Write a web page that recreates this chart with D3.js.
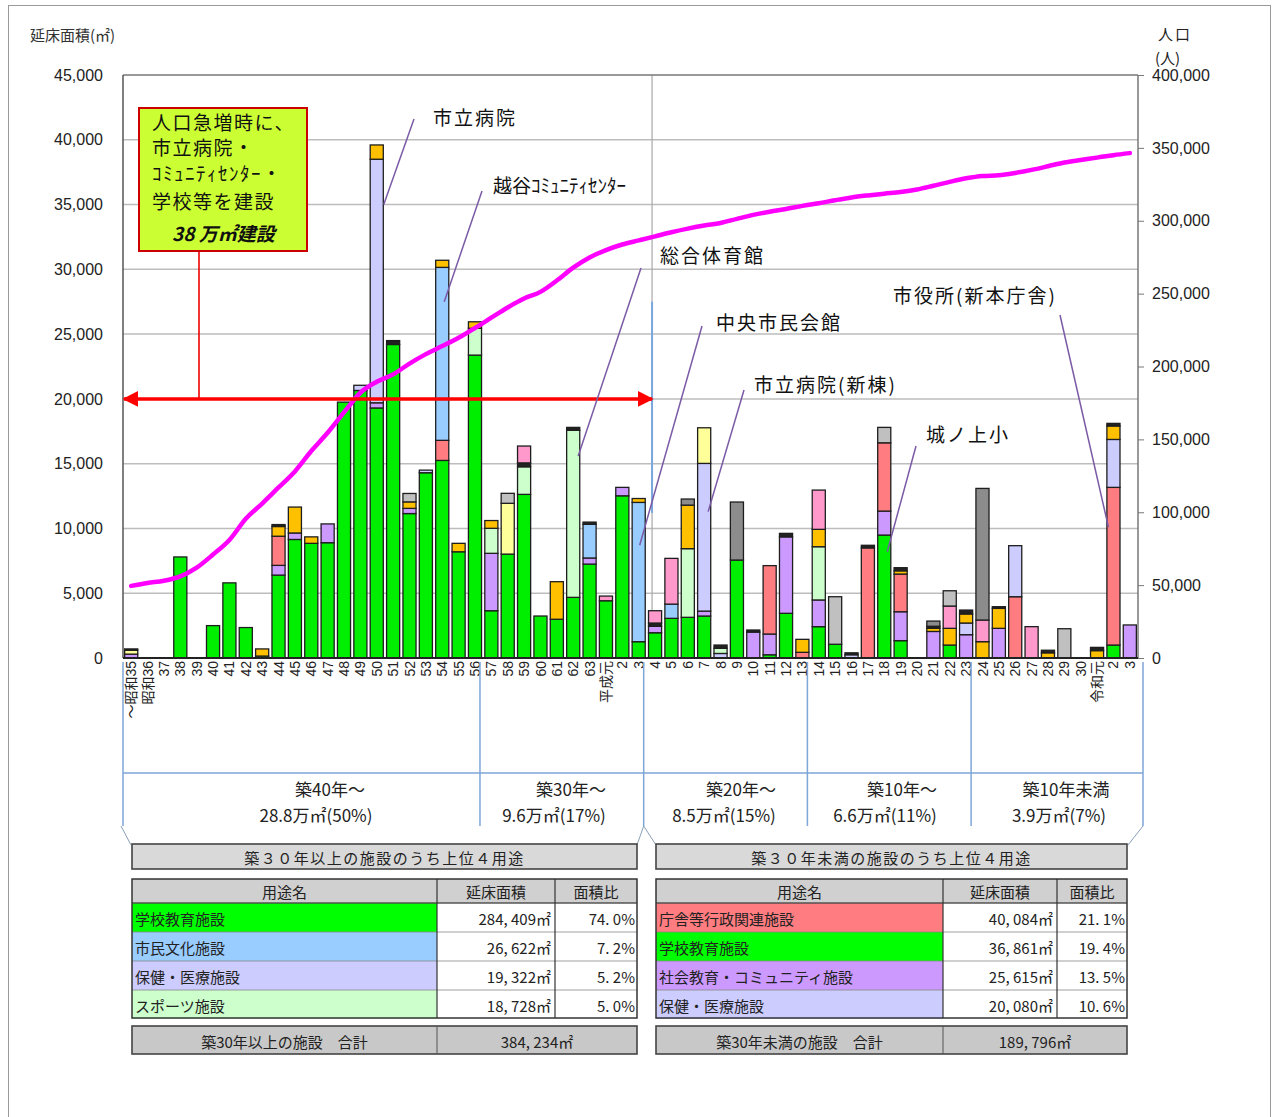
<!DOCTYPE html>
<html><head><meta charset="utf-8">
<script src="https://cdn.jsdelivr.net/npm/d3@7"></script>
<style>body{margin:0;background:#fff}</style>
</head><body><svg id="c" width="1273" height="1117"></svg>
<script>
// ---------- DATA ----------
const yearKeys = ["S35","S36","S37","S38","S39","S40","S41","S42","S43","S44",
"S45","S46","S47","S48","S49","S50","S51","S52","S53","S54",
"S55","S56","S57","S58","S59","S60","S61","S62","S63","H1",
"H2","H3","H4","H5","H6","H7","H8","H9","H10","H11",
"H12","H13","H14","H15","H16","H17","H18","H19","H20","H21",
"H22","H23","H24","H25","H26","H27","H28","H29","H30","R1","R2","R3"];
const tickLabels = ["～昭和35","昭和36","37","38","39","40","41","42","43","44",
"45","46","47","48","49","50","51","52","53","54",
"55","56","57","58","59","60","61","62","63","平成元",
"2","3","4","5","6","7","8","9","10","11",
"12","13","14","15","16","17","18","19","20","21",
"22","23","24","25","26","27","28","29","30","令和元","2","3"];

const seriesKeys = ["学校教育施設","社会教育・コミュニティ施設","庁舎等行政関連施設","保健・医療施設","市民文化施設","スポーツ施設","系列G","系列H","系列I","系列J","系列K","系列L"];
const seriesColors = ["#00ee00","#cc99ff","#ff7c80","#ccccff","#99ccff","#ccffcc","#ffc000","#ffff99","#222222","#ff99cc","#c0c0c0","#8c8c8c"];

const gakko = [
0,0,0,7800,0,2500,5800,2350,150,6400,
9150,8850,8900,19750,20650,19300,24200,11150,14300,15250,
8200,23380,3650,8020,12630,3240,2990,4680,7250,4420,
12520,1260,1950,3060,3140,3240,0,7560,0,250,
3450,0,2420,1060,0,0,9490,1340,0,0,
1000,0,0,0,0,0,0,0,0,0,
1000,0];
const shakai = [
300,0,0,0,0,0,0,0,0,750,
500,0,1450,0,0,400,0,400,0,0,
0,0,4430,0,0,0,0,0,470,0,
650,0,500,0,0,380,0,0,2000,1600,
5900,0,2060,0,0,0,1850,2230,0,2050,
0,1800,0,2290,0,0,0,0,0,0,
0,2550];
const chosha = [
0,0,0,0,0,0,0,0,0,2250,
0,0,0,0,0,0,0,0,0,1550,
0,0,0,0,0,0,0,0,0,0,
0,0,0,0,0,0,0,0,0,5280,
0,440,0,0,0,8500,5270,2910,0,0,
0,0,0,0,4730,0,0,0,0,0,
12170,0];
const hoken = [
0,0,0,0,0,0,0,0,0,0,
0,0,0,0,400,18800,0,0,200,0,
0,0,0,0,0,0,0,0,0,0,
0,0,0,0,0,11400,350,0,0,0,
0,0,0,0,250,0,0,0,0,0,
0,900,0,0,3940,0,0,0,0,0,
3700,0];
const bunka = [
0,0,0,0,0,0,0,0,0,0,
0,0,0,0,0,0,0,0,0,13350,
0,0,0,0,0,0,0,0,2600,0,
0,10750,0,1100,0,0,0,0,0,0,
0,0,0,0,0,0,0,0,0,0,
0,0,0,0,0,0,0,0,0,0,
0,0];
const sports = [
0,0,0,0,0,0,0,0,0,0,
0,0,0,0,0,0,0,0,0,0,
0,2070,1930,0,2130,0,0,12900,0,0,
0,0,0,0,5300,0,400,0,0,0,
0,0,4110,0,0,0,0,0,0,0,
0,0,0,0,0,0,0,0,0,0,
0,0];
const seriesG = [
0,0,0,0,0,0,0,0,550,750,
2000,500,0,0,0,1100,0,500,0,550,
650,500,600,0,0,0,2900,0,0,0,
0,300,0,0,3360,0,0,0,0,0,
0,1000,1340,0,0,0,0,250,0,250,
1290,700,1260,1540,0,0,400,0,0,570,
1040,0];
const seriesH = [
300,0,0,0,0,0,0,0,0,0,
0,0,0,0,0,0,0,0,0,0,
0,0,0,3920,0,0,0,0,0,0,
0,0,0,0,0,2750,0,0,0,0,
0,0,0,0,0,0,0,0,0,0,
0,0,0,0,0,0,0,0,0,0,
0,0];
const seriesI = [
100,0,0,0,0,0,0,0,0,150,
0,0,0,0,0,0,300,0,0,0,
0,0,0,0,300,0,0,220,170,0,
0,0,250,0,0,0,250,0,160,0,
270,0,0,0,150,200,0,240,0,150,
0,300,0,130,0,0,200,0,0,250,
200,0];
const seriesJ = [
0,0,0,0,0,0,0,0,0,0,
0,0,0,0,0,0,0,0,0,0,
0,0,0,0,1300,0,0,0,0,360,
0,0,950,3530,0,0,0,0,0,0,
0,0,3030,0,0,0,0,0,0,0,
1720,0,1670,0,0,2420,0,0,0,0,
0,0];
const seriesK = [
0,0,0,0,0,0,0,0,0,0,
0,0,0,0,0,0,0,650,0,0,
0,0,0,770,0,0,0,0,0,0,
0,0,0,0,0,0,0,0,0,0,
0,0,0,3670,0,0,1190,0,0,0,
1180,0,0,0,0,0,0,2260,0,0,
0,0];
const seriesL = [
0,0,0,0,0,0,0,0,0,0,
0,0,0,0,0,0,0,0,0,0,
0,0,0,0,0,0,0,0,0,0,
0,0,0,0,470,0,0,4480,0,0,
0,0,0,0,0,0,0,0,0,400,
0,0,10160,0,0,0,0,0,0,0,
0,0];

const population = [
49500,51500,53000,56000,62000,71000,81000,95500,106000,117000,
128000,142000,154500,168500,182000,189500,194600,202000,208500,214000,
219700,226400,233500,240500,246600,251200,259000,267800,274800,279900,
283700,286500,289300,292100,294600,296700,298500,301300,304000,306200,
308100,310200,312000,314100,316000,317400,318600,319700,321400,324000,
326700,329100,330700,331200,332800,334900,337400,340000,341700,343300,
345000,346400];

const leftTicks = [0,5000,10000,15000,20000,25000,30000,35000,40000,45000];
const rightTicks = [0,50000,100000,150000,200000,250000,300000,350000,400000];

const periodTitles = ["築40年～","築30年～","築20年～","築10年～","築10年未満"];
const periodSubs = ["28.8万㎡(50%)","9.6万㎡(17%)","8.5万㎡(15%)","6.6万㎡(11%)","3.9万㎡(7%)"];

const oldNames = ["学校教育施設","市民文化施設","保健・医療施設","スポーツ施設"];
const oldAreas = [284409,26622,19322,18728];
const oldRatios = [74.0,7.2,5.2,5.0];
const oldColors = ["#00ff00","#99ccff","#ccccff","#ccffcc"];
const newNames = ["庁舎等行政関連施設","学校教育施設","社会教育・コミュニティ施設","保健・医療施設"];
const newAreas = [40084,36861,25615,20080];
const newRatios = [21.1,19.4,13.5,10.6];
const newColors = ["#ff7c80","#00ff00","#cc99ff","#ccccff"];
const oldTotal = 384234, newTotal = 189796;

// ---------- SETUP ----------
const JP = "'Noto Sans CJK JP','Noto Sans',sans-serif";
const NUM = "'Liberation Sans',Arial,'Noto Sans CJK JP',sans-serif";
const svg = d3.select('#c');
const M = {l:123, r:1138, t:75, b:658};
const x = d3.scaleBand().domain(yearKeys).range([M.l,M.r]).paddingInner(0.2).paddingOuter(0.1);
const y = d3.scaleLinear().domain([0,45000]).range([M.b,M.t]);
const y2 = d3.scaleLinear().domain([0,400000]).range([M.b,M.t]);
const xc = k => x(k) + x.bandwidth()/2;

// outer frame
svg.append('rect').attr('x',8.5).attr('y',5.5).attr('width',1262).attr('height',1120)
  .attr('fill','none').attr('stroke','#9a9a9a').attr('stroke-width',1);

// grid lines
svg.append('g').selectAll('line').data(leftTicks.slice(1,-1)).join('line')
  .attr('x1',M.l).attr('x2',M.r).attr('y1',d=>y(d)).attr('y2',d=>y(d))
  .attr('stroke','#bdbdbd').attr('stroke-width',1.5);

// divider line in plot (築30年 boundary)
const divX = xc('H4') - 3;
svg.append('line').attr('x1',divX).attr('x2',divX).attr('y1',M.t).attr('y2',M.b)
  .attr('stroke','#a8a8a8').attr('stroke-width',1.2);
svg.append('line').attr('x1',divX).attr('x2',divX).attr('y1',y(27500)).attr('y2',y(11200))
  .attr('stroke','#7aa7dd').attr('stroke-width',2);

// stacked bars
const seriesData = [gakko,shakai,chosha,hoken,bunka,sports,seriesG,seriesH,seriesI,seriesJ,seriesK,seriesL];
const rows = yearKeys.map((k,i)=>{const o={key:k}; seriesKeys.forEach((s,j)=>o[s]=seriesData[j][i]); return o;});
const stacked = d3.stack().keys(seriesKeys)(rows);
const gBars = svg.append('g');
stacked.forEach((layer,li)=>{
  gBars.append('g').selectAll('rect').data(layer.filter(d=>d[1]>d[0])).join('rect')
    .attr('x',d=>x(d.data.key)).attr('width',x.bandwidth())
    .attr('y',d=>y(d[1])).attr('height',d=>y(d[0])-y(d[1]))
    .attr('fill',seriesColors[li]).attr('stroke','#1e1e1e').attr('stroke-width',1.3);
});

// plot frame
svg.append('line').attr('x1',M.l).attr('x2',M.r).attr('y1',M.t).attr('y2',M.t).attr('stroke','#777').attr('stroke-width',1.5);
svg.append('line').attr('x1',M.l).attr('x2',M.l).attr('y1',M.t).attr('y2',M.b).attr('stroke','#555').attr('stroke-width',1.5);
svg.append('line').attr('x1',M.r).attr('x2',M.r).attr('y1',M.t).attr('y2',M.b).attr('stroke','#777').attr('stroke-width',1.5);
svg.append('line').attr('x1',M.l).attr('x2',M.r).attr('y1',M.b).attr('y2',M.b).attr('stroke','#222').attr('stroke-width',2);

// left axis
const gl = svg.append('g').attr('transform',`translate(${M.l},0)`)
  .call(d3.axisLeft(y).tickValues(leftTicks).tickFormat(d3.format(',')).tickSize(0).tickPadding(20));
gl.select('.domain').remove();
gl.selectAll('text').attr('font-family',NUM).attr('font-size',16).attr('fill','#222');

// right axis
const gr = svg.append('g').attr('transform',`translate(${M.r},0)`)
  .call(d3.axisRight(y2).tickValues(rightTicks).tickFormat(d3.format(',')).tickSize(6).tickPadding(8));
gr.select('.domain').remove();
gr.selectAll('line').attr('stroke','#777');
gr.selectAll('text').attr('font-family',NUM).attr('font-size',16).attr('fill','#222');

// x axis labels
const gx = svg.append('g').attr('transform',`translate(0,${M.b})`)
  .call(d3.axisBottom(x).tickSize(0).tickFormat((d,i)=>tickLabels[i]));
gx.select('.domain').remove();
gx.selectAll('text').attr('transform','rotate(-90)').attr('text-anchor','end')
  .attr('x',-3).attr('y',0).attr('dy','0.36em')
  .attr('font-family',NUM).attr('font-size',14).attr('fill','#222');

// axis titles
svg.append('text').attr('x',30).attr('y',41).text('延床面積(㎡)').attr('font-family',JP).attr('font-size',15).attr('fill','#333');
svg.append('text').attr('x',1158).attr('y',40).text('人口').attr('font-family',JP).attr('font-size',15).attr('fill','#222').attr('letter-spacing',2);
svg.append('text').attr('x',1155).attr('y',64).text('(人)').attr('font-family',JP).attr('font-size',15).attr('fill','#222');

// population line
const line = d3.line().x((d,i)=>xc(yearKeys[i])).y(d=>y2(d)).curve(d3.curveMonotoneX);
svg.append('path').attr('d',line(population)).attr('fill','none').attr('stroke','#ff00ff')
  .attr('stroke-width',4.5).attr('stroke-linecap','round');

// red arrow + annotation box
const defs = svg.append('defs');
defs.append('marker').attr('id','ah').attr('viewBox','0 0 10 10').attr('refX',9).attr('refY',5)
  .attr('markerWidth',4.5).attr('markerHeight',4.5).attr('orient','auto-start-reverse')
  .append('path').attr('d','M0,0 L10,5 L0,10 z').attr('fill','#ff0000');
const arrowY = y(20000);
svg.append('line').attr('x1',199).attr('x2',199).attr('y1',251).attr('y2',arrowY).attr('stroke','#ee0000').attr('stroke-width',1.6);
svg.append('line').attr('x1',M.l+1).attr('x2',divX).attr('y1',arrowY).attr('y2',arrowY)
  .attr('stroke','#ff0000').attr('stroke-width',3.5)
  .attr('marker-start','url(#ah)').attr('marker-end','url(#ah)');
svg.append('rect').attr('x',139).attr('y',108).attr('width',168).attr('height',143)
  .attr('fill','#ccff33').attr('stroke','#cc0000').attr('stroke-width',2);
const boxLines = [["人口急増時に、",121],["市立病院・",146],["ｺﾐｭﾆﾃｨｾﾝﾀｰ・",172],["学校等を建設",200]];
boxLines.forEach(([t,cy])=>{
  svg.append('text').attr('x',152).attr('y',cy).attr('dominant-baseline','central').text(t)
    .attr('font-family',JP).attr('font-size',19).attr('letter-spacing',1.5).attr('fill','#111');
});
svg.append('text').attr('x',172).attr('y',232).attr('dominant-baseline','central').text('38 万㎡建設')
  .attr('font-family',JP).attr('font-size',19).attr('font-weight','bold').attr('font-style','italic').attr('fill','#111');

// callouts
const callouts = [
  {t:'市立病院', tx:433, ty:116, sx:414, sy:119, k:'S50', dx:7, v:35000},
  {t:'越谷ｺﾐｭﾆﾃｨｾﾝﾀｰ', tx:493, ty:184, sx:482, sy:191, k:'S54', dx:2, v:27500},
  {t:'総合体育館', tx:660, ty:254, sx:641, sy:268, k:'S62', dx:5, v:15600},
  {t:'中央市民会館', tx:716, ty:321, sx:702, sy:326, k:'H3', dx:1, v:8700},
  {t:'市立病院(新棟)', tx:754, ty:383, sx:744, sy:390, k:'H7', dx:4, v:11300},
  {t:'市役所(新本庁舎)', tx:893, ty:294, sx:1060, sy:315, k:'R2', dx:-5, v:10100},
  {t:'城ノ上小', tx:926, ty:433, sx:916, sy:446, k:'H18', dx:3, v:8200}
];
callouts.forEach(c=>{
  svg.append('line').attr('x1',c.sx).attr('y1',c.sy).attr('x2',xc(c.k)+c.dx).attr('y2',y(c.v))
    .attr('stroke','#7b5aa6').attr('stroke-width',1.5);
  svg.append('text').attr('x',c.tx).attr('y',c.ty).attr('dominant-baseline','central').text(c.t)
    .attr('font-family',JP).attr('font-size',19).attr('letter-spacing',c.t==='越谷ｺﾐｭﾆﾃｨｾﾝﾀｰ'?0:2).attr('fill','#111');
});

// lower period box
const blue = '#7ea6d8';
const sepKeys = ['S56','H3','H13','H23'];
const sepX = [M.l, ...sepKeys.map(k=>xc(k)+5), 1143];
sepX.forEach(sx=>{
  svg.append('line').attr('x1',sx).attr('x2',sx).attr('y1',662).attr('y2',826).attr('stroke',blue).attr('stroke-width',1.5);
});
svg.append('line').attr('x1',M.l).attr('x2',1143).attr('y1',773).attr('y2',773).attr('stroke',blue).attr('stroke-width',1.5);
const titleCx = [330,571,741,902,1066], subCx = [316,554,724,885,1059];
periodTitles.forEach((t,i)=>{
  svg.append('text').attr('x',titleCx[i]).attr('y',788).attr('text-anchor','middle').attr('dominant-baseline','central')
    .text(t).attr('font-family',JP).attr('font-size',17).attr('fill','#222');
  svg.append('text').attr('x',subCx[i]).attr('y',814).attr('text-anchor','middle').attr('dominant-baseline','central')
    .text(periodSubs[i]).attr('font-family',JP).attr('font-size',17).attr('fill','#222');
});
[[121,826,131,845],[sepX[2],826,637,845],[sepX[2],826,656,845],[1143,826,1128,845]].forEach(p=>{
  svg.append('line').attr('x1',p[0]).attr('y1',p[1]).attr('x2',p[2]).attr('y2',p[3]).attr('stroke','#8aa0b8').attr('stroke-width',1);
});

// tables
const fmtArea = v => d3.format(',')(v).replace(',', ', ') + '㎡';
const fmtRatio = v => v.toFixed(1).replace('.', '. ') + '%';
function drawTable(x0, widths, title, names, areas, ratios, colors, totalLabel, total){
  const g = svg.append('g');
  const W = d3.sum(widths);
  const c1 = x0 + widths[0], c2 = c1 + widths[1];
  g.append('rect').attr('x',x0).attr('y',844).attr('width',W).attr('height',25)
    .attr('fill','#d9d9d9').attr('stroke','#444').attr('stroke-width',1.6);
  g.append('text').attr('x',x0+W/2).attr('y',857).attr('text-anchor','middle').attr('dominant-baseline','central')
    .text(title).attr('font-family',JP).attr('font-size',15).attr('letter-spacing',1.5).attr('fill','#222');
  // header
  g.append('rect').attr('x',x0).attr('y',879).attr('width',W).attr('height',24).attr('fill','#d0d0d0');
  [['用途名',x0+widths[0]/2],['延床面積',c1+widths[1]/2],['面積比',c2+widths[2]/2]].forEach(([t,cx])=>{
    g.append('text').attr('x',cx).attr('y',891).attr('text-anchor','middle').attr('dominant-baseline','central')
      .text(t).attr('font-family',JP).attr('font-size',15).attr('fill','#222');
  });
  names.forEach((n,i)=>{
    const ry = 903 + i*29;
    g.append('rect').attr('x',x0).attr('y',ry).attr('width',widths[0]).attr('height',29).attr('fill',colors[i]);
    g.append('rect').attr('x',c1).attr('y',ry).attr('width',widths[1]+widths[2]).attr('height',29).attr('fill','#fff');
    g.append('line').attr('x1',x0).attr('x2',x0+W).attr('y1',ry).attr('y2',ry).attr('stroke','#888').attr('stroke-width',0.8);
    g.append('text').attr('x',x0+3).attr('y',ry+15).attr('dominant-baseline','central').text(n)
      .attr('font-family',JP).attr('font-size',15).attr('fill','#222');
    g.append('text').attr('x',c2-4).attr('y',ry+15).attr('text-anchor','end').attr('dominant-baseline','central').text(fmtArea(areas[i]))
      .attr('font-family',JP).attr('font-size',15).attr('fill','#222');
    g.append('text').attr('x',x0+W-2).attr('y',ry+15).attr('text-anchor','end').attr('dominant-baseline','central').text(fmtRatio(ratios[i]))
      .attr('font-family',JP).attr('font-size',15).attr('fill','#222');
  });
  g.append('rect').attr('x',x0).attr('y',879).attr('width',W).attr('height',139).attr('fill','none').attr('stroke','#333').attr('stroke-width',1.5);
  g.append('line').attr('x1',x0).attr('x2',x0+W).attr('y1',903).attr('y2',903).attr('stroke','#333').attr('stroke-width',1.2);
  [c1,c2].forEach(cx=>g.append('line').attr('x1',cx).attr('x2',cx).attr('y1',879).attr('y2',1018).attr('stroke','#333').attr('stroke-width',1.2));
  // total row
  g.append('rect').attr('x',x0).attr('y',1026).attr('width',W).attr('height',28)
    .attr('fill','#c8c8c8').attr('stroke','#444').attr('stroke-width',1.6);
  g.append('line').attr('x1',c1).attr('x2',c1).attr('y1',1026).attr('y2',1054).attr('stroke','#555').attr('stroke-width',1);
  g.append('text').attr('x',x0+widths[0]/2).attr('y',1041).attr('text-anchor','middle').attr('dominant-baseline','central')
    .text(totalLabel).attr('font-family',JP).attr('font-size',15).attr('fill','#222');
  g.append('text').attr('x',c1+(widths[1]+widths[2])/2).attr('y',1041).attr('text-anchor','middle').attr('dominant-baseline','central')
    .text(fmtArea(total)).attr('font-family',JP).attr('font-size',15).attr('fill','#222');
}
drawTable(132,[305,118,82],'築３０年以上の施設のうち上位４用途',oldNames,oldAreas,oldRatios,oldColors,'築30年以上の施設　合計',oldTotal);
drawTable(656,[287,114,70],'築３０年未満の施設のうち上位４用途',newNames,newAreas,newRatios,newColors,'築30年未満の施設　合計',newTotal);
</script>
</body></html>
